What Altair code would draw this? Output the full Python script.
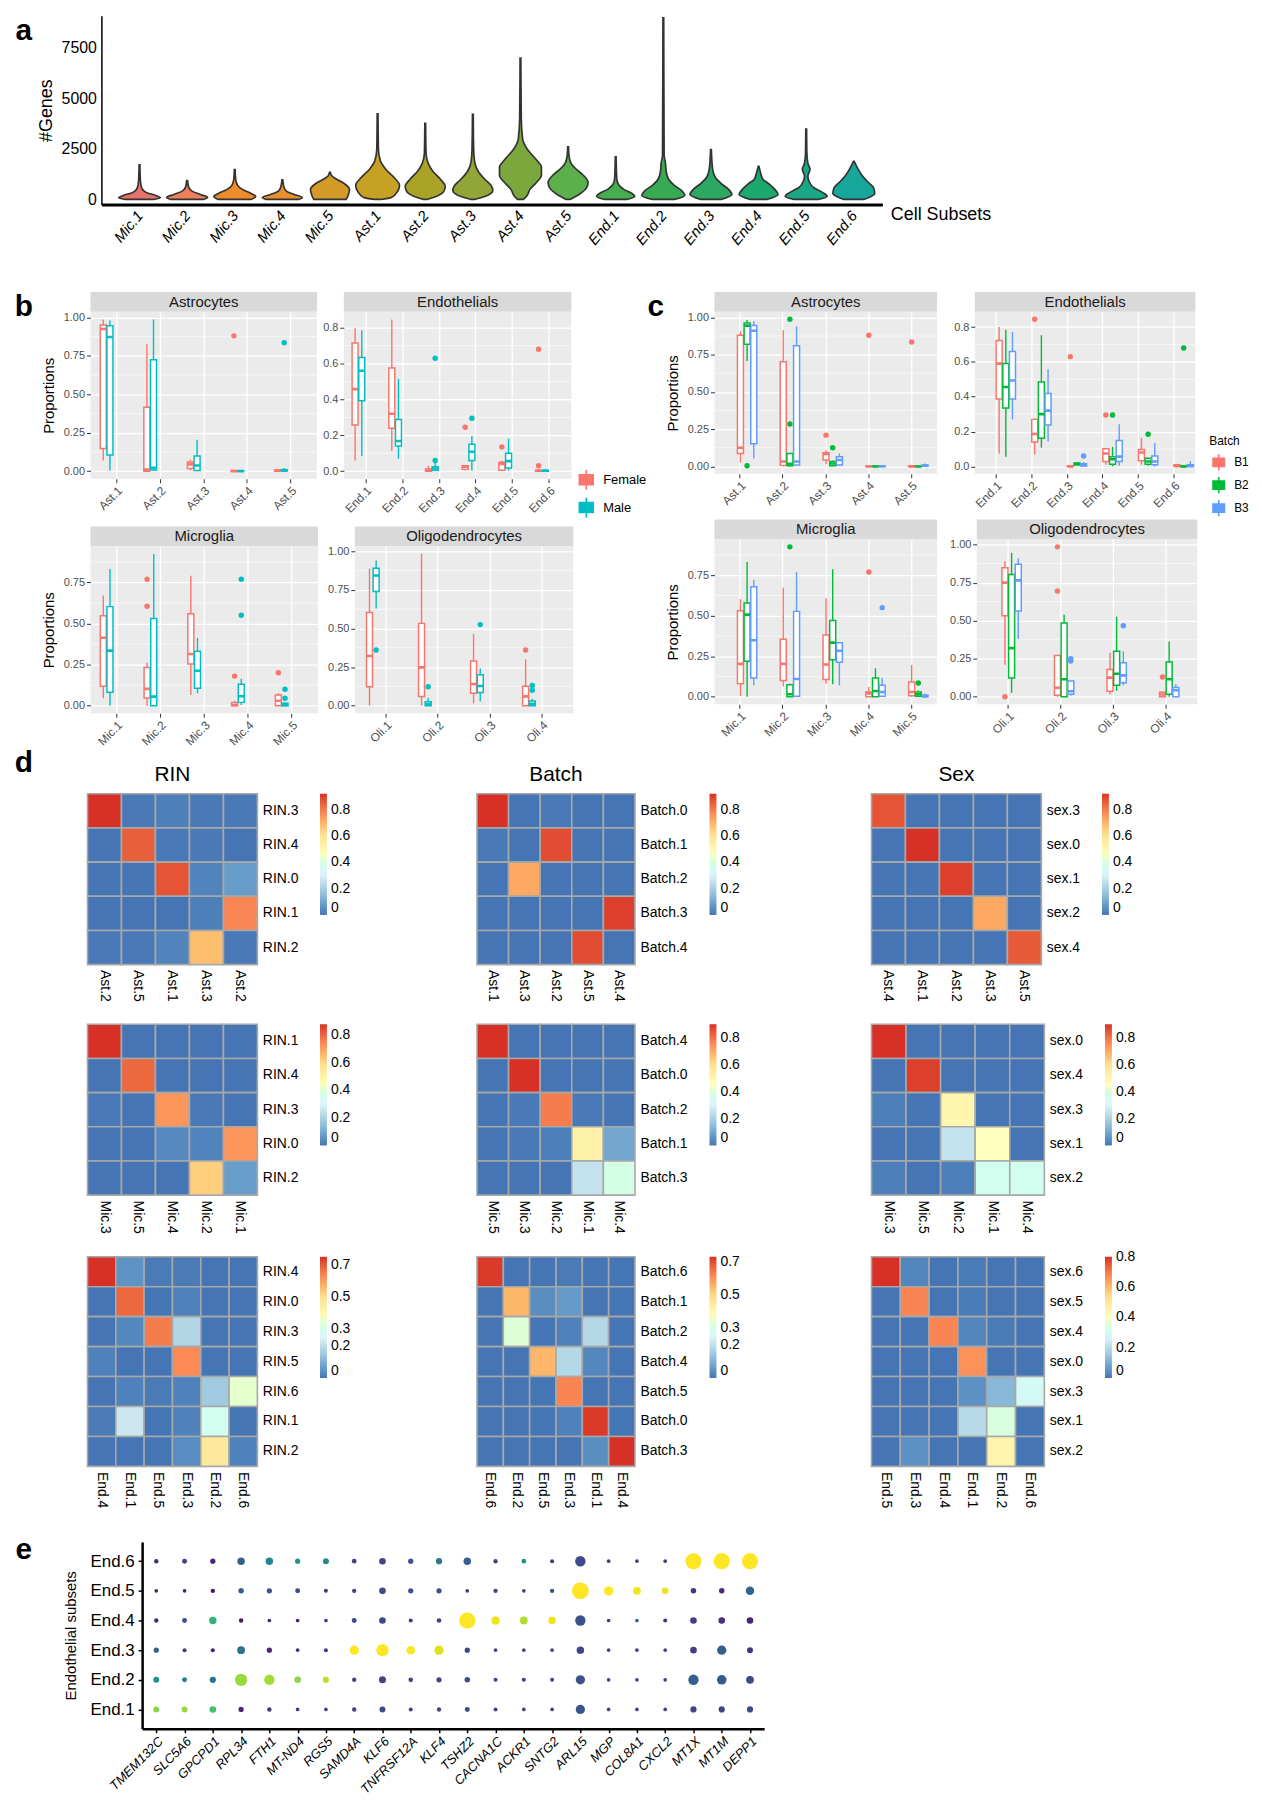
import altair as alt
import pandas as pd

FONT = "Liberation Sans, Arial, Helvetica, sans-serif"

# ---------------- panel a : violins ----------------
SUBSETS = ["Mic.1", "Mic.2", "Mic.3", "Mic.4", "Mic.5", "Ast.1", "Ast.2", "Ast.3", "Ast.4", "Ast.5",
           "End.1", "End.2", "End.3", "End.4", "End.5", "End.6"]
SUBSET_COLORS = ["#E8736B", "#EE7F5A", "#EE8B2A", "#E6912A", "#D49A28", "#C6A123", "#A9A427", "#92A637",
                 "#7AA83D", "#5CB04C", "#46AE4D", "#38AA52", "#2CA862", "#1DA86F", "#19A883", "#17A79A"]
GENE_TICKS = [0, 2500, 5000, 7500]
# violin outline: gene counts and half-widths (fraction of category spacing)
VIOLIN_GENES = {
    "Mic.1": [0, 80, 200, 350, 550, 900, 1720],
    "Mic.2": [0, 100, 250, 400, 600, 935],
    "Mic.3": [0, 150, 300, 500, 700, 1000, 1475],
    "Mic.4": [0, 100, 250, 400, 600, 970],
    "Mic.5": [0, 200, 500, 800, 1000, 1150, 1345],
    "Ast.1": [0, 100, 400, 700, 1100, 1500, 1900, 2500, 4245],
    "Ast.2": [0, 150, 400, 650, 1000, 1400, 1800, 2300, 3770],
    "Ast.3": [0, 150, 450, 700, 1000, 1400, 1900, 2500, 4215],
    "Ast.4": [0, 200, 500, 800, 1200, 1600, 2000, 2500, 3000, 4000, 7000],
    "Ast.5": [0, 250, 550, 850, 1200, 1500, 1800, 2200, 2610],
    "End.1": [0, 150, 300, 500, 700, 1000, 2115],
    "End.2": [0, 200, 450, 700, 1000, 1400, 1800, 2200, 9000],
    "End.3": [0, 250, 500, 800, 1100, 1500, 2475],
    "End.4": [0, 250, 500, 750, 1000, 1300, 1640],
    "End.5": [0, 150, 350, 600, 900, 1150, 1500, 1800, 2300, 3480],
    "End.6": [0, 300, 600, 900, 1200, 1500, 1885],
}
VIOLIN_HALF = {
    "Mic.1": [0.30, 0.44, 0.34, 0.14, 0.05, 0.02, 0.008],
    "Mic.2": [0.34, 0.43, 0.28, 0.11, 0.035, 0.008],
    "Mic.3": [0.34, 0.44, 0.34, 0.16, 0.06, 0.02, 0.008],
    "Mic.4": [0.34, 0.42, 0.25, 0.09, 0.035, 0.008],
    "Mic.5": [0.34, 0.38, 0.41, 0.29, 0.14, 0.045, 0.008],
    "Ast.1": [0.06, 0.29, 0.42, 0.46, 0.34, 0.17, 0.06, 0.017, 0.008],
    "Ast.2": [0.035, 0.23, 0.39, 0.42, 0.32, 0.16, 0.06, 0.017, 0.008],
    "Ast.3": [0.035, 0.25, 0.42, 0.38, 0.25, 0.11, 0.035, 0.017, 0.008],
    "Ast.4": [0.06, 0.14, 0.20, 0.32, 0.44, 0.44, 0.32, 0.14, 0.045, 0.017, 0.008],
    "Ast.5": [0.035, 0.23, 0.38, 0.42, 0.32, 0.17, 0.06, 0.017, 0.008],
    "End.1": [0.23, 0.40, 0.34, 0.17, 0.07, 0.023, 0.008],
    "End.2": [0.23, 0.45, 0.38, 0.23, 0.11, 0.06, 0.045, 0.017, 0.008],
    "End.3": [0.21, 0.44, 0.37, 0.21, 0.09, 0.035, 0.008],
    "End.4": [0.17, 0.41, 0.34, 0.23, 0.09, 0.045, 0.008],
    "End.5": [0.25, 0.44, 0.34, 0.15, 0.06, 0.035, 0.08, 0.035, 0.014, 0.008],
    "End.6": [0.21, 0.44, 0.41, 0.28, 0.17, 0.09, 0.008],
}

# ---------------- panels b / c : box plots ----------------
# (subset, group, lower whisker, q1, median, q3, upper whisker, outliers)
B_AST = [
    ("Ast.1", "Female", 0.07, 0.148, 0.925, 0.95, 0.987, []),
    ("Ast.1", "Male", 0.005, 0.105, 0.873, 0.945, 0.98, []),
    ("Ast.2", "Female", 0.0, 0.0, 0.01, 0.415, 0.825, []),
    ("Ast.2", "Male", 0.005, 0.008, 0.022, 0.725, 0.987, []),
    ("Ast.3", "Female", 0.005, 0.017, 0.044, 0.06, 0.076, []),
    ("Ast.3", "Male", 0.0, 0.004, 0.037, 0.098, 0.205, []),
    ("Ast.4", "Female", 0.0, 0.0, 0.0, 0.004, 0.006, [0.88]),
    ("Ast.4", "Male", 0.0, 0.0, 0.0, 0.003, 0.005, []),
    ("Ast.5", "Female", 0.0, 0.0, 0.003, 0.008, 0.013, []),
    ("Ast.5", "Male", 0.0, 0.001, 0.004, 0.01, 0.02, [0.836]),
]
B_END = [
    ("End.1", "Female", 0.06, 0.258, 0.458, 0.716, 0.80, []),
    ("End.1", "Male", 0.084, 0.393, 0.56, 0.634, 0.785, []),
    ("End.2", "Female", 0.112, 0.24, 0.32, 0.576, 0.847, []),
    ("End.2", "Male", 0.07, 0.14, 0.168, 0.288, 0.514, []),
    ("End.3", "Female", 0.0, 0.0, 0.004, 0.012, 0.03, []),
    ("End.3", "Male", 0.0, 0.005, 0.015, 0.025, 0.045, [0.06, 0.63]),
    ("End.4", "Female", 0.005, 0.01, 0.025, 0.03, 0.035, [0.245]),
    ("End.4", "Male", 0.004, 0.06, 0.108, 0.15, 0.196, [0.295]),
    ("End.5", "Female", 0.0, 0.005, 0.04, 0.05, 0.06, [0.135]),
    ("End.5", "Male", 0.004, 0.018, 0.056, 0.10, 0.181, []),
    ("End.6", "Female", 0.0, 0.0, 0.002, 0.005, 0.01, [0.03, 0.68]),
    ("End.6", "Male", 0.0, 0.0, 0.002, 0.005, 0.012, []),
]
B_MIC = [
    ("Mic.1", "Female", 0.045, 0.118, 0.413, 0.548, 0.67, []),
    ("Mic.1", "Male", 0.0, 0.082, 0.335, 0.603, 0.832, []),
    ("Mic.2", "Female", 0.0, 0.047, 0.102, 0.233, 0.262, [0.605, 0.77]),
    ("Mic.2", "Male", 0.0, 0.0, 0.055, 0.531, 0.924, []),
    ("Mic.3", "Female", 0.065, 0.253, 0.315, 0.56, 0.791, []),
    ("Mic.3", "Male", 0.076, 0.106, 0.213, 0.331, 0.413, []),
    ("Mic.4", "Female", 0.0, 0.0, 0.005, 0.02, 0.03, [0.18]),
    ("Mic.4", "Male", 0.004, 0.02, 0.057, 0.131, 0.164, [0.55, 0.77]),
    ("Mic.5", "Female", 0.0, 0.0, 0.03, 0.065, 0.076, [0.2]),
    ("Mic.5", "Male", 0.0, 0.0, 0.005, 0.015, 0.02, [0.045, 0.1]),
]
B_OLI = [
    ("Oli.1", "Female", 0.0, 0.122, 0.322, 0.604, 0.887, []),
    ("Oli.1", "Male", 0.63, 0.74, 0.843, 0.89, 0.94, [0.36]),
    ("Oli.2", "Female", 0.0, 0.06, 0.248, 0.533, 0.983, []),
    ("Oli.2", "Male", 0.0, 0.0, 0.01, 0.025, 0.05, [0.123]),
    ("Oli.3", "Female", 0.015, 0.08, 0.14, 0.29, 0.465, []),
    ("Oli.3", "Male", 0.027, 0.085, 0.127, 0.2, 0.24, [0.525]),
    ("Oli.4", "Female", 0.0, 0.0, 0.06, 0.125, 0.3, [0.36]),
    ("Oli.4", "Male", 0.0, 0.0, 0.012, 0.03, 0.045, [0.1, 0.13]),
]
C_AST = [
    ("Ast.1", "B1", 0.026, 0.087, 0.125, 0.88, 0.907, []),
    ("Ast.1", "B2", 0.707, 0.82, 0.945, 0.963, 0.983, [0.005]),
    ("Ast.1", "B3", 0.054, 0.152, 0.91, 0.946, 0.974, []),
    ("Ast.2", "B1", 0.0, 0.007, 0.033, 0.702, 0.913, []),
    ("Ast.2", "B2", 0.0, 0.004, 0.017, 0.087, 0.09, [0.285, 0.988]),
    ("Ast.2", "B3", 0.009, 0.009, 0.033, 0.81, 0.94, []),
    ("Ast.3", "B1", 0.017, 0.043, 0.083, 0.091, 0.109, [0.21]),
    ("Ast.3", "B2", 0.004, 0.004, 0.02, 0.033, 0.04, [0.125]),
    ("Ast.3", "B3", 0.005, 0.009, 0.043, 0.065, 0.087, []),
    ("Ast.4", "B1", 0.0, 0.0, 0.0, 0.003, 0.004, [0.88]),
    ("Ast.4", "B2", 0.0, 0.0, 0.0, 0.002, 0.003, []),
    ("Ast.4", "B3", 0.0, 0.0, 0.001, 0.003, 0.005, []),
    ("Ast.5", "B1", 0.0, 0.0, 0.0, 0.004, 0.006, [0.835]),
    ("Ast.5", "B2", 0.0, 0.0, 0.0, 0.002, 0.003, []),
    ("Ast.5", "B3", 0.0, 0.001, 0.004, 0.01, 0.02, []),
]
C_END = [
    ("End.1", "B1", 0.074, 0.387, 0.59, 0.722, 0.8, []),
    ("End.1", "B2", 0.056, 0.335, 0.456, 0.59, 0.785, []),
    ("End.1", "B3", 0.27, 0.387, 0.493, 0.66, 0.772, []),
    ("End.2", "B1", 0.07, 0.14, 0.186, 0.27, 0.275, [0.845]),
    ("End.2", "B2", 0.108, 0.162, 0.30, 0.484, 0.753, []),
    ("End.2", "B3", 0.143, 0.238, 0.32, 0.419, 0.558, []),
    ("End.3", "B1", 0.0, 0.0, 0.0, 0.003, 0.005, [0.63]),
    ("End.3", "B2", 0.005, 0.008, 0.015, 0.02, 0.022, []),
    ("End.3", "B3", 0.0, 0.002, 0.008, 0.015, 0.025, [0.06]),
    ("End.4", "B1", 0.01, 0.028, 0.074, 0.102, 0.105, [0.295]),
    ("End.4", "B2", 0.0, 0.013, 0.041, 0.056, 0.112, [0.295]),
    ("End.4", "B3", 0.004, 0.028, 0.056, 0.149, 0.242, []),
    ("End.5", "B1", 0.01, 0.032, 0.08, 0.097, 0.164, []),
    ("End.5", "B2", 0.004, 0.013, 0.028, 0.047, 0.05, [0.185]),
    ("End.5", "B3", 0.0, 0.009, 0.028, 0.06, 0.134, []),
    ("End.6", "B1", 0.0, 0.0, 0.003, 0.01, 0.015, []),
    ("End.6", "B2", 0.0, 0.0, 0.0, 0.002, 0.003, [0.68]),
    ("End.6", "B3", 0.0, 0.0, 0.003, 0.01, 0.03, []),
]
C_MIC = [
    ("Mic.1", "B1", 0.006, 0.081, 0.203, 0.531, 0.602, []),
    ("Mic.1", "B2", 0.0, 0.219, 0.507, 0.578, 0.831, []),
    ("Mic.1", "B3", 0.071, 0.116, 0.349, 0.679, 0.72, []),
    ("Mic.2", "B1", 0.065, 0.101, 0.203, 0.355, 0.673, []),
    ("Mic.2", "B2", 0.0, 0.0, 0.016, 0.075, 0.08, [0.925]),
    ("Mic.2", "B3", 0.0, 0.004, 0.11, 0.527, 0.77, []),
    ("Mic.3", "B1", 0.081, 0.107, 0.199, 0.381, 0.608, []),
    ("Mic.3", "B2", 0.077, 0.229, 0.334, 0.47, 0.787, []),
    ("Mic.3", "B3", 0.071, 0.213, 0.284, 0.334, 0.334, []),
    ("Mic.4", "B1", 0.0, 0.0, 0.02, 0.03, 0.06, [0.77]),
    ("Mic.4", "B2", 0.0, 0.0, 0.036, 0.116, 0.176, []),
    ("Mic.4", "B3", 0.0, 0.004, 0.03, 0.071, 0.118, [0.55]),
    ("Mic.5", "B1", 0.0, 0.006, 0.03, 0.091, 0.197, []),
    ("Mic.5", "B2", 0.0, 0.003, 0.015, 0.03, 0.04, [0.085]),
    ("Mic.5", "B3", 0.0, 0.0, 0.004, 0.01, 0.02, []),
]
C_OLI = [
    ("Oli.1", "B1", 0.211, 0.533, 0.75, 0.848, 0.891, [0.0]),
    ("Oli.1", "B2", 0.026, 0.124, 0.32, 0.804, 0.946, []),
    ("Oli.1", "B3", 0.38, 0.563, 0.765, 0.87, 0.909, []),
    ("Oli.2", "B1", 0.0, 0.011, 0.059, 0.272, 0.275, [0.695, 0.985]),
    ("Oli.2", "B2", 0.0, 0.0, 0.115, 0.485, 0.539, []),
    ("Oli.2", "B3", 0.007, 0.017, 0.037, 0.104, 0.106, [0.235, 0.25]),
    ("Oli.3", "B1", 0.017, 0.037, 0.126, 0.18, 0.289, []),
    ("Oli.3", "B2", 0.039, 0.076, 0.152, 0.3, 0.526, []),
    ("Oli.3", "B3", 0.076, 0.093, 0.141, 0.224, 0.3, [0.467]),
    ("Oli.4", "B1", 0.0, 0.0, 0.015, 0.03, 0.035, [0.13]),
    ("Oli.4", "B2", 0.0, 0.017, 0.115, 0.228, 0.363, []),
    ("Oli.4", "B3", 0.0, 0.0, 0.043, 0.061, 0.083, []),
]
SEX_GROUPS = ["Female", "Male"]
SEX_COLORS = ["#F8766D", "#00BFC4"]
BATCH_GROUPS = ["B1", "B2", "B3"]
BATCH_COLORS = ["#F8766D", "#00BA38", "#619CFF"]
TICKS_Q = [0, 0.25, 0.5, 0.75, 1.0]
TICKS_E = [0, 0.2, 0.4, 0.6, 0.8]

# ---------------- panel d : heatmaps ----------------
RDYLBU = ["#4575B4", "#91BFDB", "#E0F3F8", "#FFFFBF", "#FEE090", "#FC8D59", "#D73027"]
HM_TICKS_8 = [0, 0.2, 0.4, 0.6, 0.8]
HM_TICKS_7 = [0, 0.2, 0.3, 0.5, 0.7]

AST_RIN_ROWS = ["RIN.3", "RIN.4", "RIN.0", "RIN.1", "RIN.2"]
AST_RIN_COLS = ["Ast.2", "Ast.5", "Ast.1", "Ast.3", "Ast.2"]
AST_RIN_VALS = [[0.92, 0.01, 0.02, 0.01, 0.01], [0.0, 0.85, 0.01, 0.01, 0.0], [0.0, 0.0, 0.87, 0.03, 0.08],
                [0.0, 0.0, 0.0, 0.02, 0.78], [0.01, 0.01, 0.03, 0.68, 0.01]]
AST_BAT_ROWS = ["Batch.0", "Batch.1", "Batch.2", "Batch.3", "Batch.4"]
AST_BAT_COLS = ["Ast.1", "Ast.3", "Ast.2", "Ast.5", "Ast.4"]
AST_BAT_VALS = [[0.92, 0.0, 0.01, 0.0, 0.0], [0.01, 0.0, 0.88, 0.0, 0.0], [0.0, 0.72, 0.0, 0.0, 0.0],
                [0.0, 0.0, 0.0, 0.0, 0.9], [0.0, 0.0, 0.0, 0.88, 0.0]]
AST_SEX_ROWS = ["sex.3", "sex.0", "sex.1", "sex.2", "sex.4"]
AST_SEX_COLS = ["Ast.4", "Ast.1", "Ast.2", "Ast.3", "Ast.5"]
AST_SEX_VALS = [[0.87, 0.0, 0.0, 0.0, 0.0], [0.0, 0.92, 0.0, 0.0, 0.0], [0.0, 0.0, 0.9, 0.0, 0.0],
                [0.0, 0.0, 0.0, 0.72, 0.0], [0.0, 0.0, 0.0, 0.0, 0.86]]

MIC_RIN_ROWS = ["RIN.1", "RIN.4", "RIN.3", "RIN.0", "RIN.2"]
MIC_RIN_COLS = ["Mic.3", "Mic.5", "Mic.4", "Mic.2", "Mic.1"]
MIC_RIN_VALS = [[0.88, 0.0, 0.0, 0.0, 0.0], [0.0, 0.8, 0.0, 0.0, 0.0], [0.01, 0.0, 0.72, 0.01, 0.0],
                [0.0, 0.0, 0.04, 0.03, 0.72], [0.0, 0.0, 0.0, 0.62, 0.08]]
MIC_BAT_ROWS = ["Batch.4", "Batch.0", "Batch.2", "Batch.1", "Batch.3"]
MIC_BAT_COLS = ["Mic.5", "Mic.3", "Mic.2", "Mic.1", "Mic.4"]
MIC_BAT_VALS = [[0.9, 0.0, 0.0, 0.0, 0.0], [0.0, 0.9, 0.0, 0.0, 0.0], [0.0, 0.01, 0.78, 0.01, 0.0],
                [0.0, 0.01, 0.02, 0.52, 0.1], [0.0, 0.0, 0.0, 0.25, 0.38]]
MIC_SEX_ROWS = ["sex.0", "sex.4", "sex.3", "sex.1", "sex.2"]
MIC_SEX_COLS = ["Mic.3", "Mic.5", "Mic.2", "Mic.1", "Mic.4"]
MIC_SEX_VALS = [[0.9, 0.0, 0.0, 0.0, 0.0], [0.0, 0.88, 0.0, 0.0, 0.0], [0.02, 0.0, 0.5, 0.0, 0.0],
                [0.0, 0.0, 0.25, 0.45, 0.0], [0.02, 0.0, 0.02, 0.36, 0.36]]

END_RIN_ROWS = ["RIN.4", "RIN.0", "RIN.3", "RIN.5", "RIN.6", "RIN.1", "RIN.2"]
END_RIN_COLS = ["End.4", "End.1", "End.5", "End.3", "End.2", "End.6"]
END_RIN_VALS = [[0.75, 0.05, 0.01, 0.01, 0.0, 0.0], [0.0, 0.68, 0.0, 0.02, 0.0, 0.0],
                [0.0, 0.03, 0.65, 0.18, 0.0, 0.0], [0.02, 0.0, 0.0, 0.63, 0.0, 0.0],
                [0.0, 0.02, 0.01, 0.02, 0.15, 0.35], [0.01, 0.22, 0.0, 0.02, 0.3, 0.0],
                [0.0, 0.0, 0.0, 0.04, 0.47, 0.02]]
END_BAT_ROWS = ["Batch.6", "Batch.1", "Batch.2", "Batch.4", "Batch.5", "Batch.0", "Batch.3"]
END_BAT_COLS = ["End.6", "End.2", "End.5", "End.3", "End.1", "End.4"]
END_BAT_VALS = [[0.72, 0.0, 0.0, 0.01, 0.0, 0.0], [0.0, 0.55, 0.04, 0.06, 0.0, 0.0],
                [0.0, 0.33, 0.0, 0.02, 0.18, 0.0], [0.0, 0.0, 0.55, 0.18, 0.03, 0.0],
                [0.0, 0.0, 0.0, 0.62, 0.0, 0.0], [0.0, 0.0, 0.0, 0.02, 0.72, 0.0],
                [0.0, 0.0, 0.0, 0.0, 0.04, 0.73]]
END_SEX_ROWS = ["sex.6", "sex.5", "sex.4", "sex.0", "sex.3", "sex.1", "sex.2"]
END_SEX_COLS = ["End.5", "End.3", "End.4", "End.1", "End.2", "End.6"]
END_SEX_VALS = [[0.8, 0.03, 0.0, 0.01, 0.0, 0.0], [0.0, 0.68, 0.0, 0.01, 0.0, 0.0],
                [0.0, 0.0, 0.68, 0.03, 0.01, 0.0], [0.0, 0.0, 0.0, 0.66, 0.0, 0.0],
                [0.0, 0.0, 0.0, 0.05, 0.12, 0.3], [0.0, 0.0, 0.0, 0.2, 0.35, 0.0],
                [0.0, 0.05, 0.0, 0.0, 0.45, 0.0]]

# ---------------- panel e : dot plot ----------------
E_GENES = ["TMEM132C", "SLC5A6", "GPCPD1", "RPL34", "FTH1", "MT-ND4", "RGS5", "SAMD4A", "KLF6", "TNFRSF12A",
           "KLF4", "TSHZ2", "CACNA1C", "ACKR1", "SNTG2", "ARL15", "MGP", "COL8A1", "CXCL2", "MT1X", "MT1M", "DEPP1"]
E_SUBSETS = ["End.6", "End.5", "End.4", "End.3", "End.2", "End.1"]
E_PCT = {
    "End.6": [4, 6, 7, 17, 17, 7, 10, 5, 13, 7, 11, 17, 4, 5, 3, 36, 2, 2, 2, 90, 92, 92],
    "End.5": [2, 2, 4, 8, 7, 6, 3, 4, 13, 7, 7, 2, 4, 2, 4, 100, 28, 19, 13, 8, 8, 23],
    "End.4": [4, 6, 17, 4, 2, 2, 2, 6, 13, 3, 5, 92, 23, 19, 17, 36, 2, 2, 3, 13, 13, 13],
    "End.3": [7, 3, 3, 19, 7, 2, 3, 28, 52, 23, 28, 7, 2, 2, 2, 17, 2, 2, 2, 13, 28, 10],
    "End.2": [10, 6, 11, 52, 36, 13, 11, 4, 15, 5, 7, 8, 3, 3, 3, 28, 2, 2, 2, 36, 30, 19],
    "End.1": [10, 10, 13, 7, 4, 2, 2, 4, 10, 3, 4, 6, 3, 2, 2, 28, 2, 2, 2, 11, 11, 11],
}
E_EXPR = {
    "End.6": [0.12, 0.2, 0.1, 0.3, 0.45, 0.5, 0.47, 0.18, 0.2, 0.25, 0.4, 0.3, 0.2, 0.5, 0.15, 0.22, 0.15, 0.18,
              0.15, 1.0, 1.0, 1.0],
    "End.5": [0.1, 0.08, 0.05, 0.3, 0.25, 0.22, 0.15, 0.2, 0.22, 0.25, 0.22, 0.15, 0.2, 0.18, 0.25, 1.0, 1.0, 0.98,
              0.97, 0.15, 0.12, 0.32],
    "End.4": [0.12, 0.25, 0.65, 0.05, 0.12, 0.1, 0.15, 0.22, 0.22, 0.15, 0.2, 1.0, 0.98, 0.88, 0.97, 0.24, 0.18, 0.3,
              0.15, 0.18, 0.14, 0.1],
    "End.3": [0.3, 0.15, 0.08, 0.38, 0.1, 0.12, 0.15, 1.0, 1.0, 0.99, 0.95, 0.2, 0.2, 0.2, 0.2, 0.2, 0.2, 0.2, 0.2,
              0.18, 0.3, 0.16],
    "End.2": [0.5, 0.42, 0.38, 0.85, 0.87, 0.82, 0.9, 0.2, 0.2, 0.22, 0.2, 0.22, 0.2, 0.18, 0.2, 0.24, 0.18, 0.2,
              0.18, 0.3, 0.28, 0.22],
    "End.1": [0.82, 0.85, 0.7, 0.1, 0.15, 0.18, 0.2, 0.2, 0.22, 0.18, 0.2, 0.22, 0.2, 0.2, 0.2, 0.25, 0.2, 0.2, 0.2,
              0.2, 0.2, 0.22],
}

# =====================================================================
BOX_ICON = "M-0.7,-0.5H0.7V0.5H-0.7Z M-0.7,0H0.7 M0,-0.5V-1 M0,0.5V1"


def js_array(items):
    return "[" + ",".join("'" + s + "'" for s in items) + "]"


def indep(c):
    return c.resolve_scale(color="independent", stroke="independent", size="independent")


def letter(t, w=22, h=30):
    return alt.Chart(pd.DataFrame({"t": [t]})).mark_text(
        fontSize=30, fontWeight="bold", font=FONT, color="black", align="center", baseline="middle"
    ).encode(text="t:N").properties(width=w, height=h)


def letter_title(t, w=22, offset=16):
    return alt.Chart(pd.DataFrame({"t": [""]})).mark_text(fontSize=1).encode(text="t:N").properties(
        width=w, height=2,
        title=alt.TitleParams(t, fontSize=30, fontWeight="bold", font=FONT, anchor="middle", offset=offset,
                              color="black"))


def strip(name, W, h=20):
    return alt.Chart(pd.DataFrame({"t": [name]})).mark_text(
        fontSize=15, font=FONT, color="#1A1A1A", baseline="middle"
    ).encode(text="t:N").properties(width=W, height=h, view=alt.ViewBackground(fill="#D9D9D9"))


def box_panel(rows, groups, colors, ticks, fmt, W, H, name, ytitle=None, legend=None):
    cats = []
    recs, outs = [], []
    for (cat, grp, lo, q1, med, q3, hi, ol) in rows:
        if cat not in cats:
            cats.append(cat)
        recs.append({"cat": cat, "grp": grp, "lo": lo, "q1": q1, "med": med, "q3": q3, "hi": hi})
        for o in ol:
            outs.append({"cat": cat, "grp": grp, "v": o})
    df = pd.DataFrame(recs)
    odf = pd.DataFrame(outs)
    allv = list(df["lo"]) + list(df["hi"]) + list(odf["v"])
    vmin, vmax = min(allv), max(allv)
    pad = 0.05 * (vmax - vmin)
    ysc = alt.Scale(domain=[vmin - pad, vmax + pad], nice=False, zero=False)
    step = (ticks[1] - ticks[0])
    minors = [t + step / 2 for t in ticks if vmin - pad < t + step / 2 < vmax + pad]
    yax = alt.Axis(values=ticks, format=fmt, grid=True, gridColor="white", gridWidth=1.3, domain=False,
                   tickColor="#333333", tickSize=4, labelColor="#4D4D4D", labelFontSize=11, labelPadding=2,
                   title=ytitle, titleFontSize=15, titleFontWeight="normal", titleColor="black", titlePadding=7)
    xsc = alt.Scale(type="band", domain=cats, paddingInner=0.25, paddingOuter=0.225)
    xax = alt.Axis(title=None, labelAngle=-45, bandPosition=0.5, grid=True, gridColor="white", gridWidth=1.3,
                   domain=False, tickColor="#333333", tickSize=4, labelColor="#4D4D4D", labelFontSize=12,
                   labelPadding=2)
    X = alt.X("cat:N", scale=xsc, axis=xax, sort=cats)
    XO = alt.XOffset("grp:N", scale=alt.Scale(type="band", domain=groups, paddingInner=0.1), sort=groups)
    csc = alt.Scale(domain=groups, range=colors)
    S = alt.Stroke("grp:N", scale=csc, legend=legend)

    minor = alt.Chart(pd.DataFrame({"m": minors})).mark_rule(color="white", strokeWidth=0.6).encode(
        y=alt.Y("m:Q", scale=ysc, axis=yax))
    whisk = alt.Chart(df).mark_rule(strokeWidth=1.4).encode(
        x=X, xOffset=XO, y=alt.Y("lo:Q", scale=ysc, axis=yax), y2="hi:Q", stroke=S)
    box = alt.Chart(df).mark_bar(fill="white", strokeWidth=1.5).encode(
        x=X, xOffset=XO, y=alt.Y("q1:Q", scale=ysc, axis=yax), y2="q3:Q", stroke=S)
    med = alt.Chart(df).mark_bar(fill="white", strokeWidth=2.6).encode(
        x=X, xOffset=XO, y=alt.Y("med:Q", scale=ysc, axis=yax), y2="med:Q", stroke=S)
    outl = alt.Chart(odf).mark_circle(size=30, opacity=1).encode(
        x=X, xOffset=XO, y=alt.Y("v:Q", scale=ysc, axis=yax),
        color=alt.Color("grp:N", scale=csc, legend=None))
    lay = alt.layer(minor, whisk, box, med, outl).properties(
        width=W, height=H, view=alt.ViewBackground(fill="#EBEBEB"))
    return alt.vconcat(strip(name, W), lay, spacing=0, bounds="flush")


def heatmap(rows, cols, vals, W, H, ticks, title=None):
    recs = [{"r": rows[i], "ci": j, "v": vals[i][j]} for i in range(len(rows)) for j in range(len(cols))]
    df = pd.DataFrame(recs)
    vmax = max(max(r) for r in vals)
    vmin = min(min(r) for r in vals)
    stops = [vmin + (vmax - vmin) * k / 6 for k in range(7)]
    ch = alt.Chart(df).mark_rect(stroke="#A8A8A8", strokeWidth=1.6).encode(
        x=alt.X("ci:O", scale=alt.Scale(paddingInner=0, paddingOuter=0),
                axis=alt.Axis(title=None, labelExpr=js_array(cols) + "[datum.value]", labelAngle=90,
                              domain=False, ticks=False, labelFontSize=14, labelColor="black", labelPadding=5)),
        y=alt.Y("r:N", sort=rows, scale=alt.Scale(paddingInner=0, paddingOuter=0),
                axis=alt.Axis(orient="right", title=None, domain=False, ticks=False, labelFontSize=14,
                              labelColor="black", labelPadding=5)),
        color=alt.Color("v:Q", scale=alt.Scale(domain=stops, range=RDYLBU),
                        legend=alt.Legend(title=None, orient="right", direction="vertical", gradientLength=122,
                                          gradientThickness=7, gradientStrokeWidth=0, values=ticks,
                                          labelExpr="datum.value == 0 ? '0' : format(datum.value, '.1f')",
                                          labelFontSize=14, labelColor="black", offset=22, labelOverlap=False,
                                          labelOffset=4)),
    ).properties(width=W, height=H)
    if title:
        ch = ch.properties(title=alt.TitleParams(title, fontSize=21, fontWeight="normal", anchor="middle",
                                                 offset=8, font=FONT))
    return ch


def heat_row(h1, h2, h3):
    return indep(alt.hconcat(indep(alt.hconcat(h1, h2, spacing=126)), h3, spacing=131))


# ---------------- build panel a ----------------
vrows = []
for i, s in enumerate(SUBSETS):
    for g, w in zip(VIOLIN_GENES[s], VIOLIN_HALF[s]):
        vrows.append({"sub": s, "idx": i + 1, "genes": g, "w": w})
vdf = pd.DataFrame(vrows)
A_W, A_H = 786, 190
violin = alt.Chart(vdf).transform_calculate(
    xl="datum.idx - datum.w", xr="datum.idx + datum.w"
).mark_area(orient="horizontal", interpolate="monotone", stroke="#333333", strokeWidth=1.7, opacity=1).encode(
    y=alt.Y("genes:Q", scale=alt.Scale(domain=[-250, 9100], nice=False, zero=False),
            axis=alt.Axis(values=GENE_TICKS, format="d", title="#Genes", titleFontSize=18,
                          titleFontWeight="normal", titlePadding=6, labelFontSize=16, labelColor="black",
                          domainColor="black", domainWidth=1.5, ticks=False, grid=False, labelPadding=5)),
    x=alt.X("xl:Q", stack=None, scale=alt.Scale(domain=[0.2, 16.6], nice=False, zero=False),
            axis=alt.Axis(values=list(range(1, 17)), labelExpr=js_array(SUBSETS) + "[datum.value - 1]",
                          labelAngle=-50, labelFontStyle="italic", labelFontSize=15, labelColor="black",
                          domainColor="black", domainWidth=3, ticks=False, grid=False, labelPadding=8,
                          title="Cell Subsets", titleFontSize=18, titleFontWeight="normal", titleAngle=0,
                          titleAlign="left", titleBaseline="middle", titleX=A_W + 8, titleY=10)),
    x2="xr:Q",
    color=alt.Color("sub:N", scale=alt.Scale(domain=SUBSETS, range=SUBSET_COLORS), legend=None),
).properties(width=A_W, height=A_H)
row_a = alt.hconcat(letter("a"), violin, spacing=2)

# ---------------- build panels b, c ----------------
B_EW = 229
LEG_B = alt.Legend(orient="none", legendX=B_EW + 4, legendY=178, title=None, symbolType=BOX_ICON, symbolSize=400,
                   symbolFillColor="white", symbolStrokeWidth=1.6, labelFontSize=13, labelColor="black",
                   rowPadding=0, labelOffset=6)
b_r1 = indep(alt.hconcat(
    box_panel(B_AST, SEX_GROUPS, SEX_COLORS, TICKS_Q, ".2f", 228, 168, "Astrocytes", ytitle="Proportions"),
    box_panel(B_END, SEX_GROUPS, SEX_COLORS, TICKS_E, ".1f", B_EW, 168, "Endothelials", legend=LEG_B),
    spacing=4))
b_r2 = indep(alt.hconcat(
    box_panel(B_MIC, SEX_GROUPS, SEX_COLORS, TICKS_Q, ".2f", 229, 168, "Microglia", ytitle="Proportions"),
    box_panel(B_OLI, SEX_GROUPS, SEX_COLORS, TICKS_Q, ".2f", 220, 168, "Oligodendrocytes"),
    spacing=8))
b_block = indep(alt.vconcat(b_r1, b_r2, spacing=5))

C_EW = 222
LEG_C = alt.Legend(orient="none", legendX=C_EW + 14, legendY=145, title="Batch", titleFontSize=12,
                   titleFontWeight="normal", titleColor="black", symbolType=BOX_ICON, symbolSize=270,
                   symbolFillColor="white", symbolStrokeWidth=1.6, labelFontSize=12, labelColor="black",
                   rowPadding=0, labelOffset=6)
c_r1 = indep(alt.hconcat(
    box_panel(C_AST, BATCH_GROUPS, BATCH_COLORS, TICKS_Q, ".2f", 224, 163, "Astrocytes", ytitle="Proportions"),
    box_panel(C_END, BATCH_GROUPS, BATCH_COLORS, TICKS_E, ".1f", C_EW, 163, "Endothelials", legend=LEG_C),
    spacing=15))
c_r2 = indep(alt.hconcat(
    box_panel(C_MIC, BATCH_GROUPS, BATCH_COLORS, TICKS_Q, ".2f", 224, 166, "Microglia", ytitle="Proportions"),
    box_panel(C_OLI, BATCH_GROUPS, BATCH_COLORS, TICKS_Q, ".2f", C_EW, 166, "Oligodendrocytes"),
    spacing=11))
c_block = indep(alt.vconcat(c_r1, c_r2, spacing=0))

row_bc = indep(alt.hconcat(
    indep(alt.hconcat(letter("b"), b_block, spacing=6)),
    indep(alt.hconcat(letter("c", w=14), c_block, spacing=0)),
    spacing=0))

# ---------------- build panel d ----------------
d_r1 = heat_row(
    heatmap(AST_RIN_ROWS, AST_RIN_COLS, AST_RIN_VALS, 171, 172, HM_TICKS_8, "RIN"),
    heatmap(AST_BAT_ROWS, AST_BAT_COLS, AST_BAT_VALS, 159, 172, HM_TICKS_8, "Batch"),
    heatmap(AST_SEX_ROWS, AST_SEX_COLS, AST_SEX_VALS, 171, 172, HM_TICKS_8, "Sex"))
d_r2 = heat_row(
    heatmap(MIC_RIN_ROWS, MIC_RIN_COLS, MIC_RIN_VALS, 171, 172, HM_TICKS_8),
    heatmap(MIC_BAT_ROWS, MIC_BAT_COLS, MIC_BAT_VALS, 159, 172, HM_TICKS_8),
    heatmap(MIC_SEX_ROWS, MIC_SEX_COLS, MIC_SEX_VALS, 174, 172, HM_TICKS_8))
d_r3 = heat_row(
    heatmap(END_RIN_ROWS, END_RIN_COLS, END_RIN_VALS, 171, 211, HM_TICKS_7),
    heatmap(END_BAT_ROWS, END_BAT_COLS, END_BAT_VALS, 159, 211, HM_TICKS_7),
    heatmap(END_SEX_ROWS, END_SEX_COLS, END_SEX_VALS, 174, 211, HM_TICKS_8))
d_grid = indep(alt.vconcat(d_r1, d_r2, d_r3, spacing=22))
row_d = indep(alt.hconcat(letter_title("d", offset=16), d_grid, spacing=52))

# ---------------- build panel e ----------------
erows = []
for s in E_SUBSETS:
    for g, p, v in zip(E_GENES, E_PCT[s], E_EXPR[s]):
        erows.append({"sub": s, "gene": g, "pct": p, "expr": v})
edf = pd.DataFrame(erows)
dots = alt.Chart(edf).mark_circle(opacity=1).encode(
    x=alt.X("gene:N", sort=E_GENES, scale=alt.Scale(padding=0.5),
            axis=alt.Axis(title=None, labelAngle=-45, labelFontStyle="italic", labelFontSize=13,
                          labelColor="black", domainColor="black", domainWidth=2.5, tickColor="black",
                          tickWidth=1.5, tickSize=4, labelPadding=2)),
    y=alt.Y("sub:N", sort=E_SUBSETS, scale=alt.Scale(padding=0.65),
            axis=alt.Axis(title="Endothelial subsets", titleFontSize=15, titleFontWeight="normal",
                          titleColor="black", titlePadding=12, labelFontSize=17, labelColor="black",
                          domainColor="black", domainWidth=2.5, tickColor="black", tickWidth=1.5, tickSize=4,
                          labelPadding=4)),
    size=alt.Size("pct:Q", scale=alt.Scale(domain=[0, 100], range=[8, 290]), legend=None),
    color=alt.Color("expr:Q", scale=alt.Scale(scheme="viridis", domain=[0, 1]), legend=None),
).properties(width=626, height=188)
row_e = indep(alt.hconcat(letter("e", h=16), dots, spacing=28))

chart = indep(alt.vconcat(
    indep(alt.vconcat(row_a, row_bc, spacing=44)),
    indep(alt.vconcat(row_d, row_e, spacing=27)),
    spacing=0,
)).properties(
    padding={"left": 5, "top": 0, "right": 5, "bottom": 5}
).configure(font=FONT).configure_view(strokeWidth=0)

chart.save("out.html", embed_options={"renderer": "svg", "actions": False})
